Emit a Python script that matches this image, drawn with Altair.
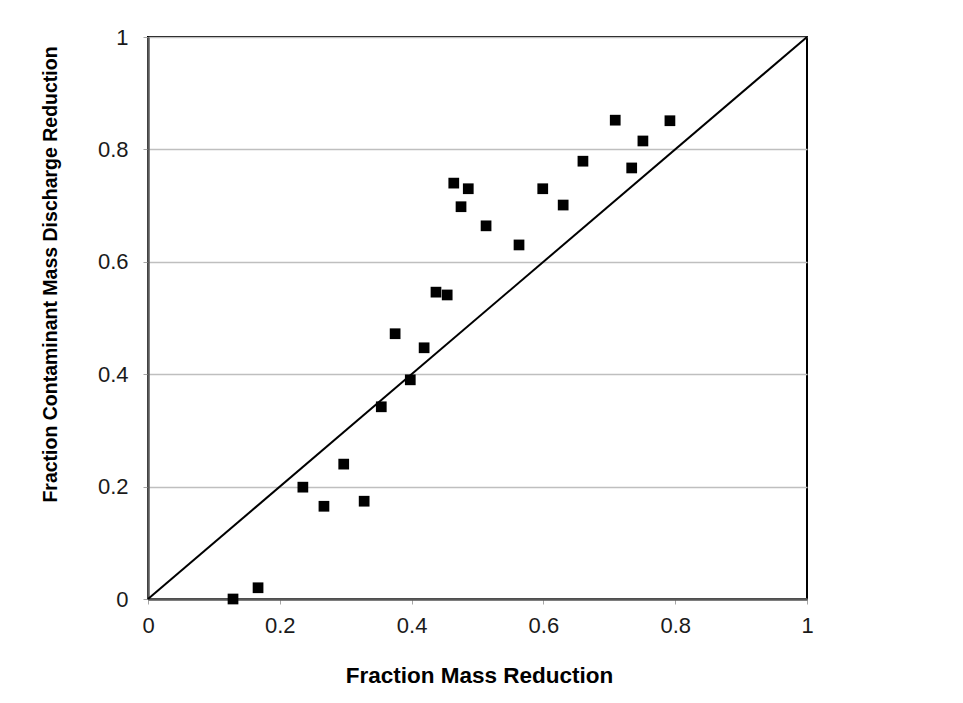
import altair as alt
import pandas as pd

# Values
frac_mass_reduction = [0.129, 0.167, 0.235, 0.267, 0.297, 0.328, 0.354, 0.375,
                       0.398, 0.419, 0.437, 0.454, 0.464, 0.475, 0.486, 0.513,
                       0.563, 0.599, 0.630, 0.660, 0.709, 0.734, 0.751, 0.792]
frac_discharge_reduction = [0.000, 0.020, 0.199, 0.165, 0.240, 0.174, 0.342, 0.472,
                            0.390, 0.447, 0.546, 0.541, 0.740, 0.698, 0.730, 0.664,
                            0.630, 0.730, 0.701, 0.779, 0.852, 0.767, 0.815, 0.851]
diagonal = [0, 1]
tick_values = [0, 0.2, 0.4, 0.6, 0.8, 1]

points = pd.DataFrame({"x": frac_mass_reduction, "y": frac_discharge_reduction})
line_df = pd.DataFrame({"x": diagonal, "y": diagonal})

W, H = 659, 562
FONT = "Liberation Sans"

x_scale = alt.Scale(domain=[0, 1], nice=False, zero=True)
y_scale = alt.Scale(domain=[0, 1], nice=False, zero=True)

x_axis = alt.Axis(
    title="Fraction Mass Reduction",
    values=tick_values, format="~g",
    grid=False, labelFlush=False,
    domainColor="#595959", domainWidth=2.5,
    tickColor="#a6a6a6", tickSize=5, tickWidth=1,
    labelFont=FONT, labelFontSize=22, labelColor="#1a1a1a", labelPadding=11,
    titleFont=FONT, titleFontSize=22.5, titleFontWeight="bold", titleColor="#000000",
    titleX=331, titleY=83, titleBaseline="alphabetic", titleAlign="center",
)
y_axis = alt.Axis(
    title="Fraction Contaminant Mass Discharge Reduction",
    values=tick_values, format="~g",
    grid=True, gridColor="#bfbfbf", gridWidth=1.5, labelFlush=False,
    domainColor="#595959", domainWidth=2.5,
    tickColor="#a6a6a6", tickSize=5, tickWidth=1,
    labelFont=FONT, labelFontSize=22, labelColor="#1a1a1a", labelPadding=15,
    titleFont=FONT, titleFontSize=19.5, titleFontWeight="bold", titleColor="#000000",
    titleAngle=270, titleX=-92, titleY=237, titleBaseline="alphabetic", titleAlign="center",
)

diag = alt.Chart(line_df).mark_line(color="black", strokeWidth=2).encode(
    x=alt.X("x:Q", scale=x_scale, axis=x_axis),
    y=alt.Y("y:Q", scale=y_scale, axis=y_axis),
)

squares = alt.Chart(points).mark_square(color="black", opacity=1, size=115, filled=True).encode(
    x=alt.X("x:Q", scale=x_scale),
    y=alt.Y("y:Q", scale=y_scale),
)

chart = alt.layer(diag, squares).properties(
    width=W, height=H,
    autosize=alt.AutoSizeParams(type="none"),
    padding={"left": 140, "top": 29, "right": 110, "bottom": 90},
    background="white",
).configure_view(stroke="black", strokeWidth=2)

chart.save("out.html", embed_options={"renderer": "svg", "actions": False})
